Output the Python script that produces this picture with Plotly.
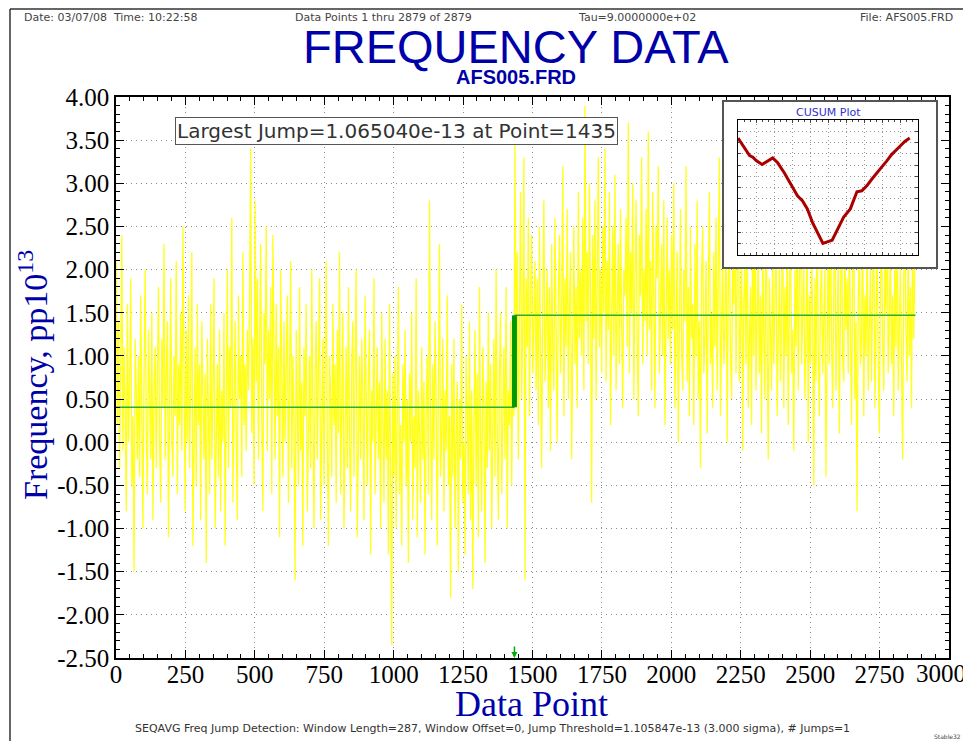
import plotly.graph_objects as go

# ---------------- data ----------------
point_step = 4  # one plotted value every 4 data points
freq_before_jump = [
    2.1, 0.2, 1.4, -0.3, 0.9, 2.4, -0.1, 1.1, 0.4, -0.8, 1.6, 0.0, 0.7, 1.9, -0.5, 0.3, -1.5, 1.2, 0.6, -0.2,
    1.0, -0.4, 1.7, 0.2, -1.0, 0.8, 2.0, 0.1, -0.6, 1.3, 0.5, -0.2, 1.5, -0.9, 0.6, 1.1, -0.3, 0.9, 1.8, 0.0,
    -0.7, 1.2, 0.4, 2.3, -0.2, 0.8, 1.4, -1.1, 0.6, 1.9, 0.1, -0.4, 1.0, 0.3, 2.1, -0.6, 0.9, 0.2, 1.5, -0.1,
    2.5, 0.5, -0.8, 1.3, 0.0, 1.7, -0.3, 0.7, 2.2, -1.2, 0.4, 1.1, -0.5, 1.6, 0.2, 0.9, -0.9, 1.4, 0.6, -0.2,
    0.8, -1.4, 1.2, 0.1, -0.6, 1.6, -0.2, 0.5, 1.9, -1.0, 0.3, 0.9, -0.4, 1.3, -0.8, 0.6, 0.0, 1.5, -1.2, 0.7,
    2.0, -0.3, 1.1, 0.4, 2.6, -0.7, 0.8, 1.4, 0.0, -0.9, 1.7, 0.5, 1.0, -0.4, 2.2, 0.2, 0.9, -0.1, 1.3, 0.6,
    1.6, 3.4, 0.1, 1.2, -0.5, 2.8, 0.7, 1.9, -0.2, 1.0, 2.3, 0.3, -0.8, 1.5, 0.9, 2.5, -0.1, 1.3, 0.5, 1.8,
    -0.6, 2.4, 0.8, -0.2, 1.6, 0.3, 1.1, -1.1, 2.0, 0.4, -0.4, 1.4, 0.0, 0.9, 1.7, -0.7, 0.6, 2.1, -0.3, 1.0,
    0.2, -1.6, 1.3, 0.5, -0.5, 1.8, -0.1, 0.7, -1.2, 1.1, 0.3, 1.6, -0.8, 0.0, 1.0, -0.3, 2.0, 0.4, -1.0, 0.8,
    1.4, -0.2, 0.6, 1.9, -0.9, 0.3, 1.2, -0.5, 0.8, 2.1, 0.0, -1.2, 1.0, 0.5, -0.4, 1.6, 0.2, 0.9, -0.7, 1.3,
    0.1, 2.2, -0.6, 0.7, 1.5, -1.0, 0.4, 1.1, -0.3, 1.8, 0.0, -0.8, 0.9, 1.4, -0.4, 0.6, 2.0, -1.1, 0.3, 1.0,
    -0.2, 1.2, 0.5, -0.9, 1.7, 0.2, -0.5, 0.8, 1.3, -1.3, 0.6, 0.0, 1.9, -0.6, 0.4, 1.1, -0.2, 0.7, -1.0, 1.5,
    0.3, -0.7, 1.2, -0.2, 0.6, -1.3, 1.6, 0.1, -2.35, 0.8, -0.4, 1.0, -1.0, 0.4, 1.8, -0.6, 0.2, -1.2, 0.9, 0.0,
    1.3, -0.5, 0.5, -1.4, 0.8, 0.0, 1.5, -0.9, 0.3, -0.3, 1.9, -1.1, 0.6, 0.1, -0.7, 1.1, -0.2, 0.7, -1.3, 0.4,
    1.0, -0.6, 2.8, 0.2, -0.9, 0.9, -0.2, 1.4, 0.5, -1.2, 0.7, 2.3, -0.4, 0.1, 1.2, -0.8, 0.6, -0.1, 1.7, -0.5,
    0.3, -1.8, 0.9, -0.4, 1.2, -1.0, 0.1, 0.7, -1.5, 0.5, -0.2, 1.6, -0.7, 0.0, -1.3, 1.0, 0.4, -0.6, 1.4, -0.9,
    0.6, -1.7, 0.2, 1.3, -0.5, 0.8, -1.1, 1.8, 0.0, -0.8, 1.1, 0.4, -1.4, 0.7, -0.3, 1.5, -0.1, 0.9, -1.0, 0.3,
    1.2, -0.4, 2.0, 0.1, -0.9, 0.8, 1.5, -0.6, 0.5, 1.1, -0.2, 1.8, -1.0, 0.6, 0.2, 1.4, -0.5, 0.9, 0.3,
]
freq_after_jump = [
    3.5, 0.9, 2.2, -0.2, 1.8, 2.9, 0.5, 1.4, 3.3, -1.6, 1.9, 1.1, 2.6, 0.3, 1.7, 2.4, 0.8, 1.3, 2.1, 0.6,
    1.9, 0.2, 2.5, 1.0, -0.3, 1.6, 2.8, 0.7, 1.3, 2.0, 0.4, 1.8, -0.1, 2.3, 1.1, 0.6, 2.6, 1.4, 0.0, 1.7,
    2.4, 0.8, 1.5, 3.2, 0.3, 1.9, 1.1, 2.7, 0.5, 1.6, 2.2, -0.2, 1.3, 2.5, 0.9, 1.8, 0.4, 2.9, 1.2, 2.0,
    1.0, 2.6, 0.6, 3.9, 1.4, 2.2, 0.9, 3.0, 1.7, -0.7, 2.4, 1.2, 2.8, 0.5, 1.9, 3.3, 1.1, 2.0, 0.8, 2.5,
    1.5, 3.4, 0.7, 2.1, 1.3, 2.9, 0.2, 1.8, 2.5, 1.0, 3.1, 0.6, 1.6, 2.3, 0.9, 2.7, 1.4, 0.4, 2.0, 1.7,
    2.6, 1.1, 3.7, 0.8, 2.2, 1.5, 3.0, 0.5, 1.9, 2.8, 1.2, 0.3, 2.4, 1.7, 3.3, 0.9, 2.0, 1.4, 2.7, 1.0,
    3.6, 1.3, 2.1, 0.6, 2.9, 1.6, 0.4, 2.5, 1.9, 3.2, 0.8, 1.5, 2.3, 1.0, 2.8, 0.2, 1.8, 2.6, 1.2, 2.0,
    0.9, 2.4, 1.3, 3.0, 0.4, 1.7, 2.2, 0.0, 1.5, 2.7, 1.1, 0.6, 2.0, 1.4, 3.2, 0.7, 1.8, 0.3, 2.5, 1.2,
    1.6, 0.2, 2.3, 1.0, 2.8, 0.5, 1.4, -0.3, 1.9, 2.5, 0.8, 1.2, 2.1, 0.1, 1.7, 2.9, 0.9, 1.5, 0.4, 2.2,
    1.1, 2.6, 0.6, 1.8, 3.3, 0.3, 1.5, 2.2, 0.9, 1.3, 2.8, 0.0, 1.7, 2.4, 1.0, 0.5, 2.0, 1.6, 2.9, 0.8,
    1.9, 3.5, 0.7, 1.3, 2.4, -0.1, 1.6, 2.1, 0.9, 2.7, 0.4, 1.2, 1.8, 0.2, 2.5, 1.0, 3.0, 0.6, 1.5, 2.2,
    0.8, 1.7, 0.1, 2.4, 1.2, 0.5, 2.8, 1.0, -0.2, 1.9, 1.4, 0.6, 2.2, 0.9, 1.6, 2.6, 0.3, 1.1, 2.0, 0.7,
    1.5, 2.9, 0.4, 1.8, 1.0, 2.3, 0.2, 1.6, 2.7, 0.8, 1.3, -0.1, 2.0, 1.1, 2.5, 0.6, 1.7, 3.1, 0.9, 1.4,
    2.1, 0.5, 1.2, 2.6, 0.0, 1.7, 0.9, 2.3, 1.4, -0.5, 1.9, 0.7, 2.8, 1.1, 0.3, 1.6, 2.2, 0.8, 1.3, 2.0,
    -0.4, 1.5, 2.4, 0.9, 3.0, 1.2, 0.4, 1.8, 2.6, 0.6, 1.4, 2.1, 0.1, 1.7, 2.9, 1.0, 0.7, 2.3, 1.3, 1.9,
    0.8, 2.5, 1.1, 0.2, 1.9, 2.7, 0.5, 1.4, -0.8, 1.6, 2.2, 0.9, 1.2, 2.8, 0.3, 1.7, 1.0, 2.4, 0.6, 1.5,
    2.0, 0.7, 1.6, 2.9, 0.4, 1.3, 2.3, 1.0, 0.1, 1.8, 2.6, 1.2, 0.6, 2.1, 1.5, 3.0, 0.8, 1.4, 2.4, 0.9,
    1.7, 0.3, 2.2, 1.1, 2.8, 0.6, 1.5, 2.0, 0.9, -0.2, 1.9, 2.5, 1.3, 0.7, 2.3, 1.0, 1.8, 0.4, 2.6, 1.2, 2.1,
]
freq_values = freq_before_jump + freq_after_jump
data_points = [1 + point_step * i for i in range(len(freq_values))]

n_points = 2879
jump_point = 1435
level_before = 0.405
level_after = 1.47

cusum_points = [0, 110, 193, 248, 303, 402, 468, 578, 661, 771, 881, 991, 1073, 1156, 1239, 1321,
                1415, 1486, 1569, 1651, 1761, 1872, 1982, 2064, 2147, 2229, 2312, 2394, 2477, 2560,
                2670, 2780, 2862]
cusum_values = [0, -30, -53, -58, -68, -80, -72, -60, -75, -105, -140, -175, -190, -215, -255, -285,
                -320, -315, -310, -280, -240, -215, -163, -160, -145, -125, -105, -88, -70, -50,
                -30, -10, 0]

x_ticks = list(range(0, 3001, 250))
y_ticks = [4.0, 3.5, 3.0, 2.5, 2.0, 1.5, 1.0, 0.5, 0.0, -0.5, -1.0, -1.5, -2.0, -2.5]

# ---------------- layout helpers (page pixel -> paper) ----------------
OFF = 8                      # the page body margin offsets the figure by 8 px
PAGE_W, PAGE_H = 971, 741
W, H = PAGE_W - OFF, PAGE_H - OFF
L, R, T, B = 116, 949, 97, 658   # plot area on the page
def px(p):
    return (p - L) / (R - L)
def py(p):
    return (B - p) / (B - T)

fig = go.Figure()

fig.add_trace(go.Scatter(x=data_points, y=freq_values, mode="lines",
                         line=dict(color="#ffff1a", width=1.3), showlegend=False, hoverinfo="skip"))
fig.add_trace(go.Scatter(x=[0, jump_point, None, jump_point, n_points],
                         y=[level_before, level_before, None, level_after, level_after],
                         mode="lines", line=dict(color="#2ab02a", width=1.5), showlegend=False))
fig.add_trace(go.Scatter(x=[jump_point, jump_point], y=[level_before, level_after],
                         mode="lines", line=dict(color="#009900", width=5), showlegend=False))

# inset frame (invisible placeholder so the framed subplot is drawn) and CUSUM curve
fig.add_trace(go.Scatter(x=[0.5], y=[0.5], mode="markers", marker=dict(opacity=0),
                         xaxis="x2", yaxis="y2", showlegend=False, hoverinfo="skip"))
fig.add_trace(go.Scatter(x=cusum_points, y=cusum_values, mode="lines",
                         line=dict(color="#aa0000", width=3), xaxis="x3", yaxis="y3",
                         showlegend=False))

serif = "Liberation Serif"
tick_font = dict(family=serif, size=25, color="black")
dotted = "1px,4px"
axis_common = dict(showline=True, linecolor="black", linewidth=1.5, mirror="ticks",
                   ticks="inside", ticklen=8, tickcolor="black", showgrid=True,
                   gridcolor="#8a8a8a", griddash=dotted, gridwidth=1, zeroline=False,
                   automargin=False, ticklabeloverflow="allow", tickfont=tick_font)

# the last x label is drawn as a separate, slightly shifted label so it stays inside the page
x_ticktext = [str(v) if v < x_ticks[-1] else "" for v in x_ticks]

fig.update_layout(
    width=W, height=H,
    margin=dict(l=L - OFF, r=PAGE_W - R, t=T - OFF, b=PAGE_H - B, autoexpand=False),
    paper_bgcolor="white", plot_bgcolor="white",
    xaxis=dict(range=[0, 3000], tickvals=x_ticks, ticktext=x_ticktext,
               ticklabelstandoff=-7,
               minor=dict(dtick=50, ticks="inside", ticklen=4, tickcolor="black", showgrid=False),
               **axis_common),
    yaxis=dict(range=[-2.5, 4.0], tickvals=y_ticks, ticktext=[f"{v:.2f}" for v in y_ticks],
               minor=dict(dtick=0.1, ticks="inside", ticklen=4, tickcolor="black", showgrid=False),
               **axis_common),
    xaxis2=dict(domain=[px(724), px(936)], anchor="y2", range=[0, 1], showline=True, mirror=True,
                linecolor="#555555", linewidth=2, showticklabels=False, showgrid=False,
                zeroline=False, ticks="", automargin=False),
    yaxis2=dict(domain=[py(267), py(102)], anchor="x2", range=[0, 1], showline=True, mirror=True,
                linecolor="#555555", linewidth=2, showticklabels=False, showgrid=False,
                zeroline=False, ticks="", automargin=False),
    xaxis3=dict(domain=[px(738), px(918)], anchor="y3", range=[0, 3000], dtick=300, tick0=0,
                showline=True, mirror="ticks", linecolor="black", linewidth=1, ticks="inside",
                ticklen=3, showticklabels=False, showgrid=True, gridcolor="#999999",
                griddash="1px,3px", zeroline=False, automargin=False,
                minor=dict(dtick=100, ticks="inside", ticklen=2, showgrid=False)),
    yaxis3=dict(domain=[py(255), py(120)], anchor="x3", range=[-355, 55], dtick=34.17, tick0=20.8,
                showline=True, mirror="ticks", linecolor="black", linewidth=1, ticks="inside",
                ticklen=3, showticklabels=False, showgrid=True, gridcolor="#999999",
                griddash="1px,3px", zeroline=False, automargin=False),
    showlegend=False,
)

small = dict(family="DejaVu Sans", size=11, color="#444444")
ann = [
    dict(x=px(22), y=py(18), text="Date: 03/07/08  Time: 10:22:58", xanchor="left", font=small),
    dict(x=px(383), y=py(18), text="Data Points 1 thru 2879 of 2879", xanchor="center", font=small),
    dict(x=px(637), y=py(18), text="Tau=9.0000000e+02", xanchor="center", font=small),
    dict(x=px(955), y=py(18), text="File: AFS005.FRD", xanchor="right", font=small),
    dict(x=px(516), y=py(46), text="FREQUENCY DATA", xanchor="center",
         font=dict(family="Liberation Sans", size=47, color="#0000a8")),
    dict(x=px(516), y=py(77), text="<b>AFS005.FRD</b>", xanchor="center",
         font=dict(family="Liberation Sans", size=20, color="#0000a8")),
    dict(x=px(531), y=py(704), text="Data Point", xanchor="center",
         font=dict(family=serif, size=36, color="#0000a8")),
    dict(x=px(33), y=py(375), text="Frequency, pp10<sup>13</sup>", textangle=-90,
         xanchor="center", font=dict(family=serif, size=34, color="#0000a8")),
    dict(x=px(492), y=py(728), text="SEQAVG Freq Jump Detection: Window Length=287, Window Offset=0, "
         "Jump Threshold=1.105847e-13 (3.000 sigma), # Jumps=1", xanchor="center",
         font=dict(family="DejaVu Sans", size=11, color="#333333")),
    dict(x=px(963), y=py(736), text="Stable32", xanchor="right",
         font=dict(family="DejaVu Sans", size=6, color="#444444")),
    dict(x=px(396), y=py(131), text="Largest Jump=1.065040e-13 at Point=1435", xanchor="center",
         font=dict(family="DejaVu Sans", size=20, color="#333333"), bordercolor="#555555",
         borderwidth=1, borderpad=1, bgcolor="white"),
    dict(x=px(828), y=py(112), text="CUSUM Plot", xanchor="center",
         font=dict(family="DejaVu Sans", size=11, color="#3333cc")),
]
for a in ann:
    a.setdefault("xref", "paper")
    a.setdefault("yref", "paper")
    a.setdefault("showarrow", False)
    a.setdefault("yanchor", "middle")
fig.update_layout(annotations=ann)

# last x tick label, tied to the axis value but nudged left like in the original
fig.add_annotation(x=x_ticks[-1], y=-2.5, xref="x", yref="y", text=str(x_ticks[-1]),
                   showarrow=False, xanchor="right", yanchor="top", xshift=19, yshift=0,
                   font=tick_font)

# jump marker arrow at the bottom axis
fig.add_annotation(x=jump_point, y=-2.5, xref="x", yref="y", ax=0, ay=-13, text="",
                   showarrow=True, arrowhead=2, arrowsize=0.8, arrowwidth=1.5, arrowcolor="#00aa00")

# outer page frame (top and left edges)
fig.add_shape(type="line", xref="paper", yref="paper", x0=px(10), x1=px(975), y0=py(9), y1=py(9),
              line=dict(color="#333333", width=1.5))
fig.add_shape(type="line", xref="paper", yref="paper", x0=px(10), x1=px(10), y0=py(9), y1=py(745),
              line=dict(color="#333333", width=1.5))

fig.write_html("out.html")
